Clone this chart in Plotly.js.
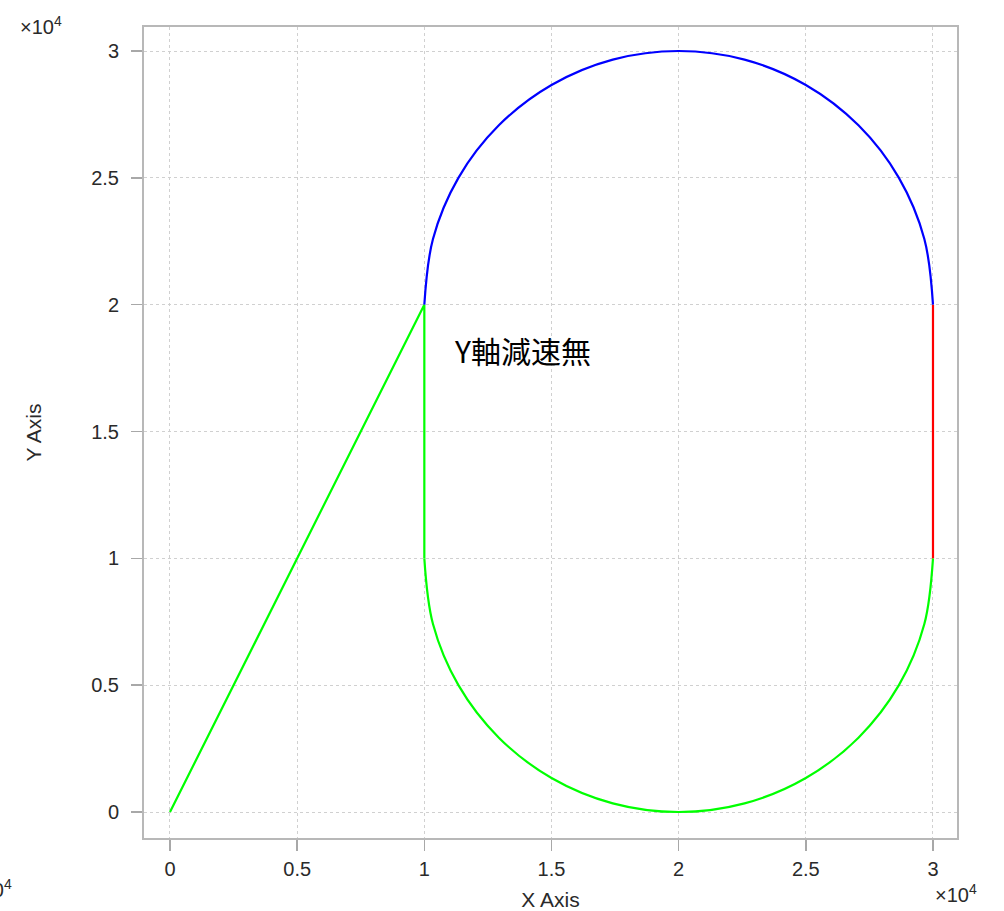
<!DOCTYPE html>
<html>
<head>
<meta charset="utf-8">
<script src="https://cdn.plot.ly/plotly-3.0.1.min.js"></script>
<style>html,body{margin:0;padding:0;background:#fff;}#chart{width:1004px;height:911px;}</style>
</head>
<body>
<div id="chart"></div>
<script>
// values in units of 1e4
var approachX = [0, 1, 1];
var approachY = [0, 2, 1];
var lowerArcX = [1, 1.034, 1.134, 1.293, 1.5, 1.741, 2, 2.259, 2.5, 2.707, 2.866, 2.966, 3];
var lowerArcY = [1, 0.741, 0.5, 0.293, 0.134, 0.034, 0, 0.034, 0.134, 0.293, 0.5, 0.741, 1];
var rightX = [3, 3];
var rightY = [1, 2];
var upperArcX = [3, 2.966, 2.866, 2.707, 2.5, 2.259, 2, 1.741, 1.5, 1.293, 1.134, 1.034, 1];
var upperArcY = [2, 2.259, 2.5, 2.707, 2.866, 2.966, 3, 2.966, 2.866, 2.707, 2.5, 2.259, 2];
var tickVals = [0, 0.5, 1, 1.5, 2, 2.5, 3];
var tickText = ['0', '0.5', '1', '1.5', '2', '2.5', '3'];
var noteText = 'Y軸減速無';
var expText = '×10<sup>4</sup>';

var font = 'Liberation Sans, Arial, sans-serif';
var txtColor = '#2a2a2a';
var traces = [
  {x: approachX, y: approachY, mode: 'lines', line: {color: '#00ff00', width: 2.2}},
  {x: lowerArcX, y: lowerArcY, mode: 'lines', line: {color: '#00ff00', width: 2.2, shape: 'spline', smoothing: 1}},
  {x: rightX, y: rightY, mode: 'lines', line: {color: '#ff0000', width: 2.2}},
  {x: upperArcX, y: upperArcY, mode: 'lines', line: {color: '#0000ff', width: 2.2, shape: 'spline', smoothing: 1}}
];
var axisCommon = {
  tickvals: tickVals, ticktext: tickText, ticks: 'outside', ticklen: 11, tickcolor: '#a8a8a8', tickwidth: 1.5,
  showline: true, mirror: true, linecolor: '#b8b8b8', linewidth: 2,
  showgrid: true, gridcolor: '#d0d0d0', griddash: '3px,3px', gridwidth: 1,
  zeroline: false, tickfont: {family: font, size: 20, color: txtColor}, automargin: false
};
var layout = {
  width: 1004, height: 911,
  margin: {l: 144, r: 47, t: 27, b: 73},
  paper_bgcolor: '#fff', plot_bgcolor: '#fff',
  showlegend: false,
  xaxis: Object.assign({}, axisCommon, {range: [-0.1022, 3.0944], ticklabelstandoff: 1,
    title: {text: 'X Axis', font: {family: font, size: 21, color: txtColor}, standoff: 14}}),
  yaxis: Object.assign({}, axisCommon, {range: [-0.1025, 3.0946], ticklabelstandoff: 8,
    title: {text: 'Y Axis', font: {family: font, size: 21, color: txtColor}, standoff: 44}}),
  annotations: [
    {x: 1.11, y: 1.82, xref: 'x', yref: 'y', text: noteText, showarrow: false, xanchor: 'left', yanchor: 'middle',
     font: {family: 'Noto Sans CJK JP, sans-serif', size: 30, color: '#000'}},
    {x: (18 - 144) / 813, y: (838 - 26) / 811, xref: 'paper', yref: 'paper', text: expText, showarrow: false,
     xanchor: 'left', yanchor: 'middle', font: {family: font, size: 20, color: txtColor}},
    {x: (933 - 144) / 813, y: (838 - 893) / 811, xref: 'paper', yref: 'paper', text: expText, showarrow: false,
     xanchor: 'left', yanchor: 'middle', font: {family: font, size: 20, color: txtColor}},
    {x: (-32 - 144) / 813, y: (838 - 888) / 811, xref: 'paper', yref: 'paper', text: expText, showarrow: false,
     xanchor: 'left', yanchor: 'middle', font: {family: font, size: 20, color: txtColor}}
  ]
};
Plotly.newPlot('chart', traces, layout, {displayModeBar: false, staticPlot: true});
</script>
</body>
</html>
